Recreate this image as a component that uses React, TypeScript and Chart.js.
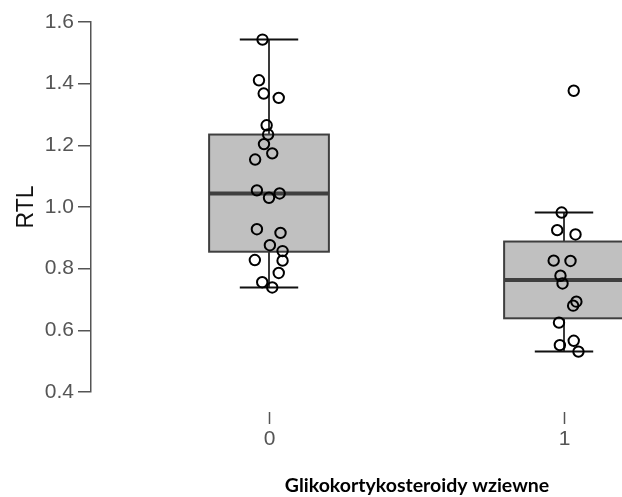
import React, { useEffect, useRef } from "react";
import { Chart, registerables } from "chart.js";

Chart.register(...registerables);

const categories = ["0", "1"];
const yTicks = [0.4, 0.6, 0.8, 1.0, 1.2, 1.4, 1.6];

// box statistics per category
const whiskerLow = [0.739, 0.531];
const q1 = [0.855, 0.639];
const median = [1.044, 0.763];
const q3 = [1.235, 0.888];
const whiskerHigh = [1.543, 0.982];

// observations (value, horizontal jitter in category units)
const group0Values = [1.543, 1.411, 1.368, 1.354, 1.265, 1.235, 1.204, 1.174, 1.154, 1.054, 1.03, 1.044, 0.928, 0.916, 0.876, 0.857, 0.828, 0.826, 0.786, 0.756, 0.739];
const group0Jitter = [-0.022, -0.034, -0.018, 0.033, -0.008, -0.003, -0.017, 0.011, -0.047, -0.041, 0.0, 0.036, -0.041, 0.039, 0.003, 0.046, -0.048, 0.046, 0.033, -0.023, 0.011];
const group1Values = [1.377, 0.982, 0.925, 0.911, 0.826, 0.825, 0.777, 0.752, 0.693, 0.68, 0.625, 0.552, 0.566, 0.531];
const group1Jitter = [0.033, -0.008, -0.023, 0.039, -0.035, 0.022, -0.012, -0.005, 0.042, 0.031, -0.017, -0.014, 0.033, 0.049];

const yTitle = "RTL";
const xTitle = "Glikokortykosteroidy wziewne";

const boxPlugin = {
  id: "boxPlugin",
  beforeDatasetsDraw(chart: any) {
    const ctx = chart.ctx;
    const xs = chart.scales.x;
    const ys = chart.scales.y;
    const pxPerUnit = xs.getPixelForValue(1) - xs.getPixelForValue(0);
    const halfBox = 0.203 * pxPerUnit;
    const halfCap = 0.099 * pxPerUnit;
    categories.forEach((_, i) => {
      const cx = xs.getPixelForValue(i);
      const yl = ys.getPixelForValue(whiskerLow[i]);
      const yh = ys.getPixelForValue(whiskerHigh[i]);
      const y1 = ys.getPixelForValue(q1[i]);
      const y3 = ys.getPixelForValue(q3[i]);
      const ym = ys.getPixelForValue(median[i]);
      ctx.save();
      // whiskers
      ctx.strokeStyle = "#3a3a3a";
      ctx.lineWidth = 2;
      ctx.beginPath();
      ctx.moveTo(cx, yh);
      ctx.lineTo(cx, y3);
      ctx.moveTo(cx, y1);
      ctx.lineTo(cx, yl);
      ctx.stroke();
      ctx.strokeStyle = "#111";
      ctx.beginPath();
      ctx.moveTo(cx - halfCap, yh);
      ctx.lineTo(cx + halfCap, yh);
      ctx.moveTo(cx - halfCap, yl);
      ctx.lineTo(cx + halfCap, yl);
      ctx.stroke();
      // box
      ctx.fillStyle = "#c0c0c0";
      ctx.fillRect(cx - halfBox, y3, 2 * halfBox, y1 - y3);
      ctx.strokeStyle = "#3f3f3f";
      ctx.lineWidth = 2;
      ctx.strokeRect(cx - halfBox, y3, 2 * halfBox, y1 - y3);
      // median
      ctx.lineWidth = 4;
      ctx.beginPath();
      ctx.moveTo(cx - halfBox, ym);
      ctx.lineTo(cx + halfBox, ym);
      ctx.stroke();
      ctx.restore();
    });
  },
  afterDraw(chart: any) {
    const ctx = chart.ctx;
    const xs = chart.scales.x;
    const ys = chart.scales.y;
    ctx.save();
    // x ticks and labels
    ctx.strokeStyle = "#555";
    ctx.lineWidth = 1.5;
    ctx.fillStyle = "#555";
    ctx.font = "21px 'Liberation Sans', Arial, sans-serif";
    ctx.textAlign = "center";
    ctx.textBaseline = "middle";
    categories.forEach((c, i) => {
      const x = Math.round(xs.getPixelForValue(i)) + 0.5;
      ctx.beginPath();
      ctx.moveTo(x, 412);
      ctx.lineTo(x, 424);
      ctx.stroke();
      ctx.fillText(c, x, 439);
    });
    // x title
    ctx.fillStyle = "#000";
    ctx.font = "bold 19.5px Lato, 'Open Sans', sans-serif";
    ctx.fillText(xTitle, 417, 486);
    // y title
    ctx.save();
    ctx.translate(27, ys.getPixelForValue(1.0));
    ctx.rotate(-Math.PI / 2);
    ctx.font = "23px 'Liberation Sans', Arial, sans-serif";
    ctx.fillStyle = "#111";
    ctx.fillText(yTitle, 0, 0);
    ctx.restore();
    ctx.restore();
  },
};

export default function App() {
  const ref = useRef<HTMLCanvasElement | null>(null);
  useEffect(() => {
    if (!ref.current) return;
    const pts0 = group0Values.map((v, k) => ({ x: 0 + group0Jitter[k], y: v }));
    const pts1 = group1Values.map((v, k) => ({ x: 1 + group1Jitter[k], y: v }));
    const pointStyle = {
      pointRadius: 5.2,
      pointBackgroundColor: "rgba(255,255,255,0)",
      pointBorderColor: "#000",
      pointBorderWidth: 2,
      showLine: false,
    };
    const chart = new Chart(ref.current, {
      type: "scatter",
      data: {
        datasets: [
          { label: categories[0], data: pts0, ...pointStyle },
          { label: categories[1], data: pts1, ...pointStyle },
        ],
      },
      options: {
        animation: false,
        responsive: false,
        maintainAspectRatio: false,
        layout: { autoPadding: false, padding: { left: 0, right: 0, top: 22, bottom: 105 } },
        plugins: { legend: { display: false }, tooltip: { enabled: false } },
        scales: {
          x: {
            type: "linear",
            display: false,
            min: -0.6034,
            max: 1.1966,
          },
          y: {
            type: "linear",
            min: 0.4,
            max: 1.6,
            afterFit: (scale: any) => {
              scale.width = 91;
            },
            afterBuildTicks: (scale: any) => {
              scale.ticks = yTicks.map((v) => ({ value: v }));
            },
            ticks: {
              color: "#555",
              font: { size: 21, family: "'Liberation Sans', Arial, sans-serif" },
              padding: 4,
              callback: (v: any) => Number(v).toFixed(1),
            },
            grid: {
              drawOnChartArea: false,
              drawTicks: true,
              tickLength: 13,
              color: "#555",
              lineWidth: 1.5,
            },
            border: { display: true, color: "#555", width: 1.5 },
          },
        },
      },
      plugins: [boxPlugin],
    });
    return () => chart.destroy();
  }, []);
  return (
    <div style={{ position: "fixed", left: 0, top: 0, width: 622, height: 497, background: "#fff" }}>
      <canvas ref={ref} width={622} height={497} style={{ width: 622, height: 497 }} />
    </div>
  );
}
